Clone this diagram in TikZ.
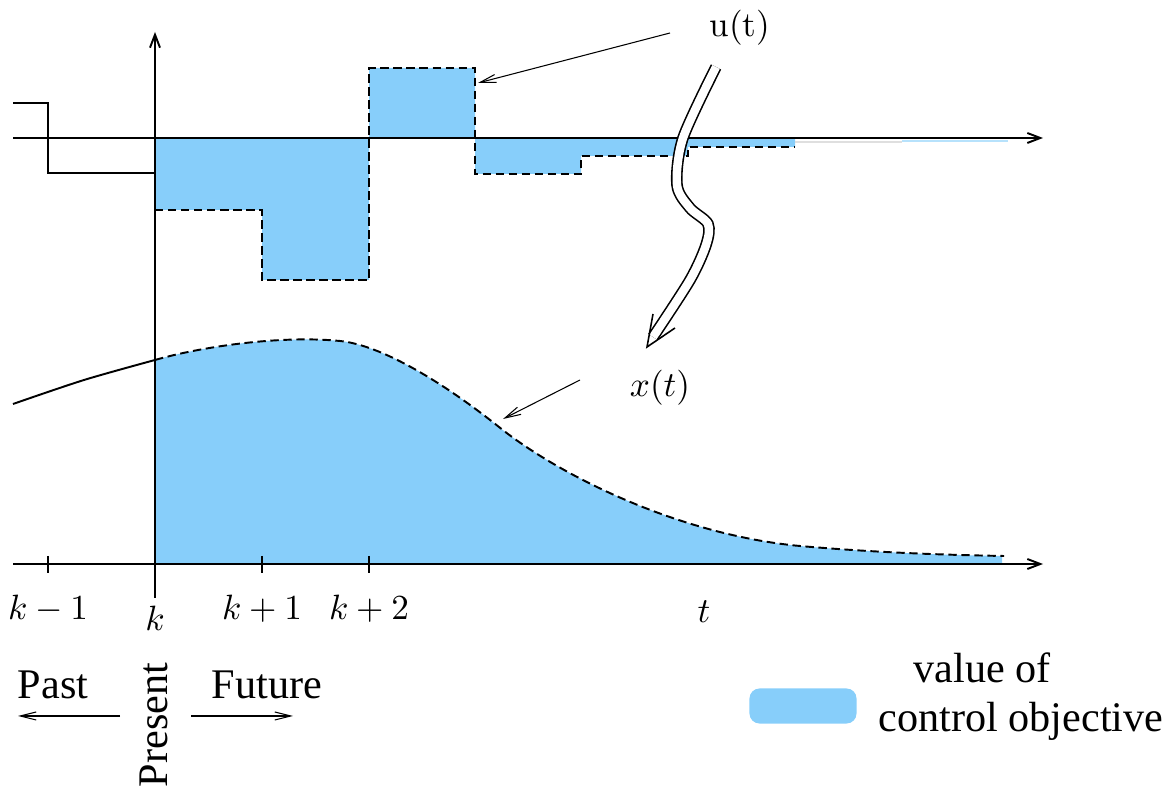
\documentclass[tikz,border=0pt]{standalone}
\usepackage{fontspec}
\newfontfamily\timesfont{Liberation Serif}
\usetikzlibrary{arrows.meta}
\definecolor{cblue}{HTML}{87CEFA}
\tikzset{
  every picture/.style={line width=0.55pt},
  axis/.style={-{Straight Barb[length=1.3mm, width=1.0mm]}, line width=0.55pt},
  pointer/.style={-{Straight Barb[length=1.6mm, width=0.8mm]}, line width=0.3pt},
  future/.style={dash pattern=on 2.4pt off 1.3pt, line width=0.55pt},
  word/.style={font=\timesfont\fontsize{12}{14}\selectfont},
  swoop/.style={double, double distance=2.4pt, line width=0.45pt},
}
\begin{document}
\begin{tikzpicture}[x=0.01cm, y=-0.01cm]
\useasboundingbox (0,0) rectangle (1176,792);
  % shaded objective
  \fill[cblue] (155,138) -- (155,210) -- (262,210) -- (262,280) -- (369,280) -- (369,68)
    -- (475,68) -- (475,174) -- (581,174) -- (581,156) -- (688,156) -- (688,147)
    -- (795,147) -- (795,138) -- cycle;
  \fill[cblue] (155,564) -- (155,360) .. controls (200,347) and (280,335) .. (340,341)
    .. controls (380,345) and (440,380) .. (499,427)
    .. controls (560,476) and (680,535) .. (800,546)
    .. controls (880,553) and (950,555) .. (1002,556) -- (1002,564) -- cycle;
  \draw[gray!25, line width=0.8pt] (795,142) -- (902,142);
  \draw[cblue!60, line width=0.4pt] (902,141) -- (1008,141);
  % axes
  \draw[axis] (13,138) -- (1043,138);
  \draw[axis] (13,564) -- (1043,564);
  \draw[axis] (155,598) -- (155,32);
  \foreach \x in {48,262,369}
    \draw (\x,556) -- (\x,573);
  % past
  \draw (13,103) -- (48,103) -- (48,173) -- (155,173);
  \draw plot[smooth] coordinates {(13,404) (84,380) (155,360)};
  % future
  \draw[future] (155,210) -- (262,210) -- (262,280) -- (369,280) -- (369,68) -- (475,68)
    -- (475,174) -- (581,174) -- (581,156) -- (688,156) -- (688,147) -- (795,147);
  \draw[future] (155,360) .. controls (200,347) and (280,335) .. (340,341)
    .. controls (380,345) and (440,380) .. (499,427)
    .. controls (560,476) and (680,535) .. (800,546)
    .. controls (880,553) and (950,555) .. (1004,556);
  \coordinate (swtip) at (647,347);
  \draw[swoop] plot[smooth] coordinates {(716,67) (683,138) (677,185) (690,208) (708,224)
    (706,245) (690,280) (653,337)};
  \draw[line width=0.45pt] (653,314) -- (swtip) -- (675,328);
  % labels
  \foreach \x/\n/\t in {48/km/{$k-1$}, 262/kpa/{$k+1$}, 369/kpb/{$k+2$}}
    \node (\n) at (\x,609) {\t};
  \node (kk) at (155,618) {$k$};
  \node (tt) at (704,612) {$t$};
  \node (ulab) at (740,28) {u(t)};
  \node (xlab) at (660,388) {$x(t)$};
  \coordinate (ufrom) at (670,33);
  \coordinate (uto) at (478,83);
  \coordinate (xfrom) at (580,380);
  \coordinate (xto) at (503,419);
  \draw[pointer] (ufrom) -- (uto);
  \draw[pointer] (xfrom) -- (xto);
  % past / present / future
  \node[word] (past) at (53,685) {Past};
  \node[word] (future) at (267,685) {Future};
  \node[word, rotate=90] (present) at (154,725) {Present};
  \coordinate (pa) at (120,716);
  \coordinate (pb) at (18,716);
  \coordinate (fa) at (191,716);
  \coordinate (fb) at (293,716);
  \draw[pointer] (pa) -- (pb);
  \draw[pointer] (fa) -- (fb);
  % legend
  \node[fill=cblue, rounded corners=1mm, minimum width=1.07cm, minimum height=0.35cm] (legbox) at (803,706) {};
  \node[word] (lega) at (982,668) {value of};
  \node[word] (legb) at (1021,721) {control objective};
\end{tikzpicture}
\end{document}
